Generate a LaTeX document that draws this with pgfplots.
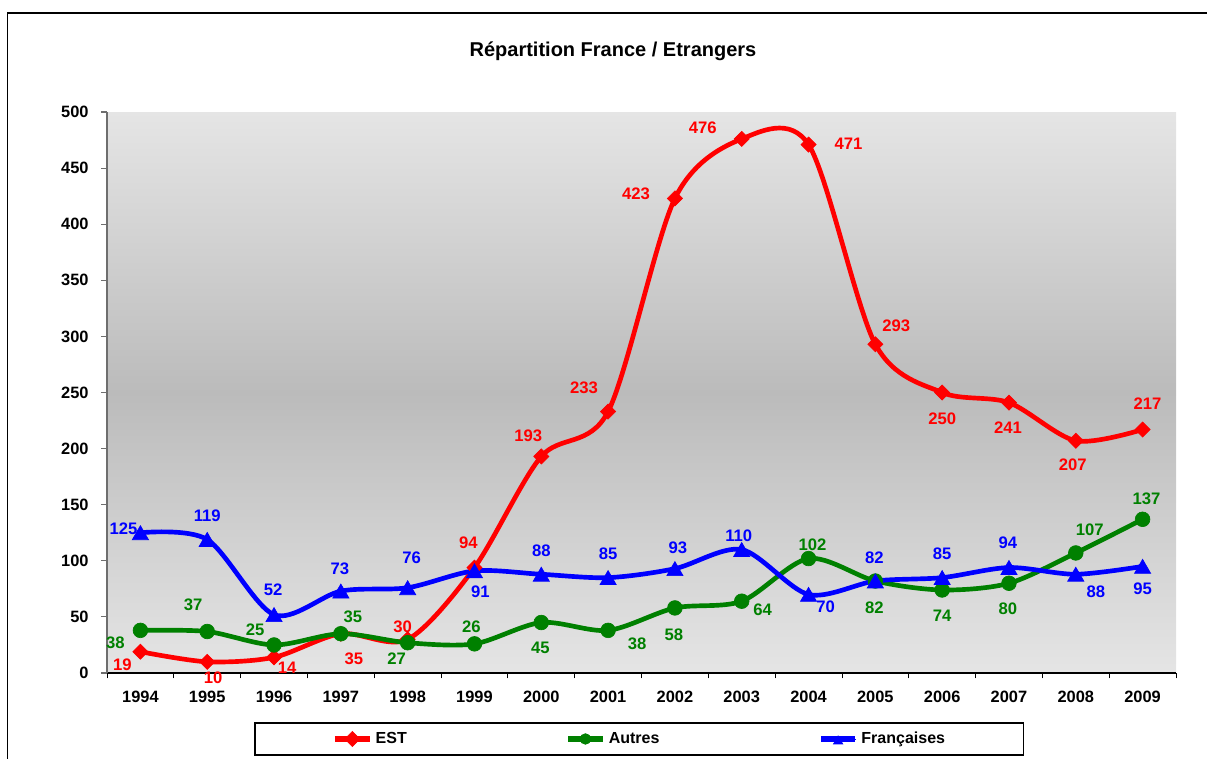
\documentclass[border=0pt]{standalone}
\usepackage{pgfplots}
\pgfplotsset{compat=1.18}
\usepackage{pgfplotstable}
\usepackage{fontspec}
\setmainfont{Liberation Sans}

\definecolor{bgEdge}{RGB}{229,229,229}
\definecolor{bgMid}{RGB}{187,187,187}
\definecolor{cEst}{RGB}{255,0,0}
\definecolor{cAut}{RGB}{0,128,0}
\definecolor{cFra}{RGB}{0,0,255}
\definecolor{yax}{RGB}{110,110,110}

% x: category index, y: value, dx/dy: label offset in px (dy up-positive)
\pgfplotstableread{
x y dx dy
0 19 -18 -13
1 10 6 -16
2 14 13 -10
3 35 13 -25
4 30 -5 13
5 94 -6 25
6 193 -13 21
7 233 -24 24
8 423 -39 5
9 476 -39 11
10 471 40 1
11 293 21 18
12 250 0 -26
13 241 -1 -25
14 207 -3 -24
15 217 5 26
}\estdata

\pgfplotstableread{
x y dx dy
0 38 -25 -12
1 37 -14 27
2 25 -19 15
3 35 12 17
4 27 -11 -16
5 26 -3 17
6 45 -1 -25
7 38 29 -13
8 58 -1 -27
9 64 21 -9
10 102 4 14
11 82 -1 -27
12 74 0 -26
13 80 -1 -26
14 107 14 23
15 137 4 21
}\autdata

\pgfplotstableread{
x y dx dy
0 125 -17 6
1 119 0 26
2 52 -1 27
3 73 -1 25
4 76 4 32
5 91 6 -19
6 88 0 26
7 85 0 26
8 93 3 23
9 110 -3 16
10 70 17 -10
11 82 -1 26
12 85 0 26
13 94 -1 27
14 88 20 -15
15 95 0 -20
}\fradata

\pgfplotsset{
  lbl/.style={
    visualization depends on={\thisrow{dx} \as \dx},
    visualization depends on={\thisrow{dy} \as \dy},
    nodes near coords={\pgfmathprintnumber[assume math mode=true]{\pgfplotspointmeta}},
    nodes near coords style={anchor=center, xshift=\dx*0.75pt, yshift=\dy*0.75pt,
      font=\fontsize{12.5}{14}\selectfont\bfseries, text=#1, inner sep=0pt},
  },
}

\begin{document}
\begin{tikzpicture}
\begin{scope}[x=0.75pt,y=-0.75pt]
  \path[use as bounding box] (0,0) rectangle (1207,758);
  \draw[line width=1.2pt] (7.5,770) -- (7.5,12.7) -- (1220,12.7);
  \node[font=\fontsize{15}{17}\selectfont\bfseries] at (613,51) {Répartition France / Etrangers};
\end{scope}
\begin{axis}[
  at={(107*0.75pt,-673*0.75pt)}, anchor=south west,
  scale only axis, width=801.75pt, height=420.75pt,
  xmin=-0.5, xmax=15.5, ymin=0, ymax=500,
  xtick={0,...,15},
  xticklabels={1994,1995,1996,1997,1998,1999,2000,2001,2002,2003,2004,2005,2006,2007,2008,2009},
  minor xtick={-0.5,0.5,...,15.5},
  ytick={0,50,...,500},
  tick align=outside,
  major tick length=4.5pt, minor tick length=4pt,
  every major x tick/.append style={draw=none},
  every minor x tick/.append style={black, line width=0.6pt},
  every major y tick/.append style={yax, line width=0.8pt},
  axis x line*=bottom, axis y line*=left,
  x axis line style={black, line width=0.9pt},
  y axis line style={yax, line width=0.9pt},
  /pgf/number format/assume math mode=true,
  ticklabel style={font=\fontsize{12.3}{14}\selectfont\bfseries},
  xticklabel style={yshift=-5.6pt},
  yticklabel style={xshift=-5.8pt},
  axis background/.style={top color=bgEdge, bottom color=bgEdge, middle color=bgMid},
  clip=false,
  legend columns=3,
  legend style={at={(0.498,-0.1176)}, anchor=center, draw=black, line width=0.8pt,
    inner xsep=58pt, inner ysep=5.5pt,
    font=\fontsize{12}{14}\selectfont\bfseries,
    nodes={inner sep=1pt, text height=9pt, text depth=2pt},
    /tikz/every odd column/.append style={column sep=1.5pt},
    /tikz/every even column/.append style={column sep=118pt}},
  legend image code/.code={%
    \draw[#1, line width=4pt, mark=none] (0pt,0pt) -- (26pt,0pt);
    \draw[#1, line width=0.5pt, mark repeat=2, mark phase=2, mark size=4pt]
      plot coordinates {(0pt,0pt)(13pt,0pt)(26pt,0pt)};},
]
\addplot[cEst, line width=3.5pt, smooth, mark=square*, mark size=4pt,
  mark options={rotate=45, line width=0.5pt, fill=cEst, draw=cEst}, lbl=cEst]
  table[x=x,y=y] {\estdata};
\addlegendentry{EST}
\addplot[cAut, line width=3.5pt, smooth, mark=*, mark size=5.5pt,
  mark options={line width=0.5pt, fill=cAut, draw=cAut}, lbl=cAut]
  table[x=x,y=y] {\autdata};
\addlegendentry{Autres}
\addplot[cFra, line width=3.5pt, smooth, mark=triangle*, mark size=7pt,
  mark options={line width=0.5pt, fill=cFra, draw=cFra, yshift=-1.7pt}, lbl=cFra]
  table[x=x,y=y] {\fradata};
\addlegendentry{Françaises}
\end{axis}
\end{tikzpicture}
\end{document}
